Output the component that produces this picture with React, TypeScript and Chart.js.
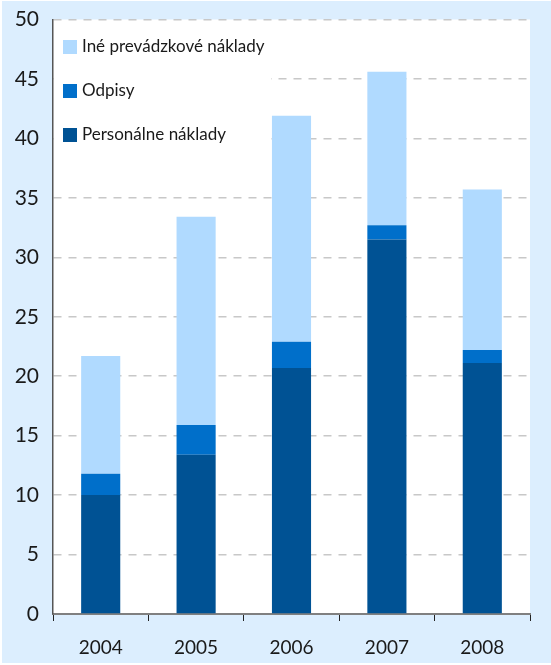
import React, { useEffect, useRef } from "react";
import { Chart, registerables } from "chart.js";

Chart.register(...registerables);

const categories = ["2004", "2005", "2006", "2007", "2008"];
const personalne = [10.0, 13.4, 20.7, 31.5, 21.1];
const odpisy = [1.8, 2.5, 2.2, 1.2, 1.1];
const ine = [9.9, 17.5, 19.0, 12.9, 13.5];
const seriesNames = ["Personálne náklady", "Odpisy", "Iné prevádzkové náklady"];
const seriesColors = ["#005294", "#006fca", "#b0daff"];
const yTicks = [0, 5, 10, 15, 20, 25, 30, 35, 40, 45, 50];

const FONT = "Lato";

const plotBg = {
  id: "plotBg",
  beforeDraw(chart: any) {
    const { ctx, chartArea } = chart;
    ctx.save();
    ctx.fillStyle = "#ffffff";
    ctx.fillRect(chartArea.left, chartArea.top, chartArea.right - chartArea.left, chartArea.bottom - chartArea.top);
    ctx.restore();
  },
};

const innerLegend = {
  id: "innerLegend",
  afterDraw(chart: any) {
    const { ctx, chartArea } = chart;
    ctx.save();
    ctx.fillStyle = "#ffffff";
    ctx.fillRect(chartArea.left + 1, chartArea.top + 3, 268 - chartArea.left, 138);
    const items = [2, 1, 0];
    ctx.font = `17px ${FONT}`;
    ctx.textBaseline = "middle";
    items.forEach((di, i) => {
      const cy = 46 + i * 44;
      ctx.fillStyle = seriesColors[di];
      ctx.fillRect(61, cy - 7, 14, 14);
      ctx.fillStyle = "#1a1a1a";
      ctx.fillText(seriesNames[di], 80, cy);
    });
    ctx.restore();
  },
};

export default function App() {
  const ref = useRef<HTMLCanvasElement>(null);
  useEffect(() => {
    if (!ref.current) return;
    const chart = new Chart(ref.current, {
      type: "bar",
      data: {
        labels: categories,
        datasets: [
          { label: seriesNames[0], data: personalne, backgroundColor: seriesColors[0] },
          { label: seriesNames[1], data: odpisy, backgroundColor: seriesColors[1] },
          { label: seriesNames[2], data: ine, backgroundColor: seriesColors[2] },
        ],
      },
      options: {
        animation: false,
        responsive: true,
        maintainAspectRatio: false,
        layout: { padding: { top: 18.5, right: 21, left: 0, bottom: 0 } },
        datasets: { bar: { categoryPercentage: 1, barPercentage: 0.41 } } as any,
        plugins: { legend: { display: false }, tooltip: { enabled: false } },
        scales: {
          x: {
            stacked: true,
            afterFit(scale: any) {
              scale.height = 49;
              scale.paddingLeft = 0;
              scale.paddingRight = 0;
            },
            grid: {
              offset: true,
              drawOnChartArea: false,
              drawTicks: true,
              tickLength: 7,
              color: "#222222",
              lineWidth: 1,
            },
            border: { display: true, color: "#808080", width: 2 },
            ticks: { color: "#1a1a1a", font: { family: FONT, size: 19 }, padding: 15 },
          },
          y: {
            stacked: true,
            min: 0,
            max: 50,
            afterFit(scale: any) {
              scale.width = 51;
              scale.paddingTop = 0;
              scale.paddingBottom = 0;
            },
            afterBuildTicks(scale: any) { scale.ticks = yTicks.map((v) => ({ value: v })); },
            grid: { color: "#c8c8c8", lineWidth: 1.5, drawTicks: false },
            border: { display: true, color: "#555555", width: 1.5, dash: [8, 7] },
            ticks: { color: "#1a1a1a", font: { family: FONT, size: 21 }, padding: 14 },
          },
        },
      },
      plugins: [plotBg, innerLegend],
    });
    return () => chart.destroy();
  }, []);
  return (
    <div style={{ position: "absolute", left: 2, top: 1, width: 549, height: 662, background: "#dceefe" }}>
      <canvas ref={ref} />
    </div>
  );
}
